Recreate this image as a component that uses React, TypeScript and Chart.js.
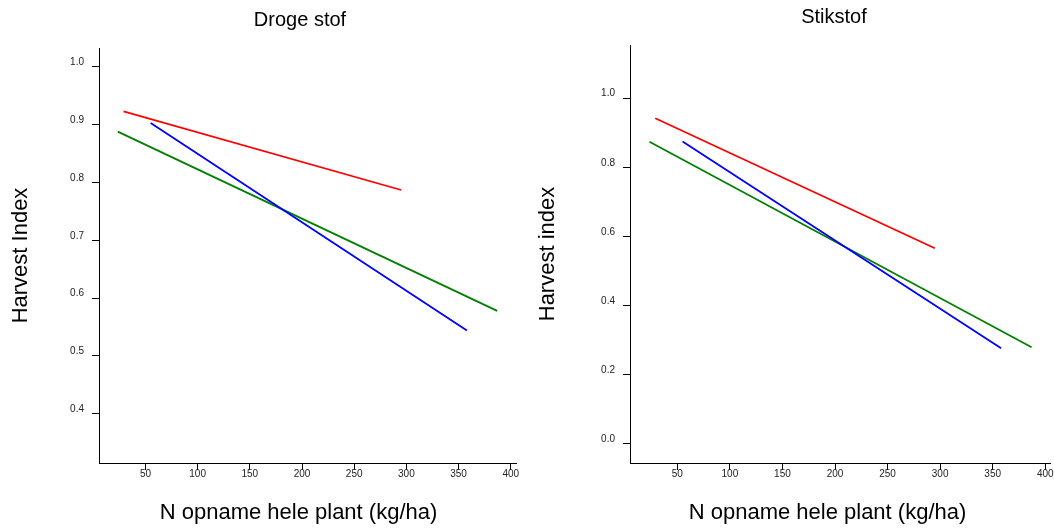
import React, { useEffect, useRef } from 'react';
import { Chart, registerables } from 'chart.js';

Chart.register(...registerables);

// ---- Data ----
const xTicks = [50, 100, 150, 200, 250, 300, 350, 400];
const drogeYTicks = [0.4, 0.5, 0.6, 0.7, 0.8, 0.9, 1.0];
const stikstofYTicks = [0.0, 0.2, 0.4, 0.6, 0.8, 1.0];

// N uptake (kg/ha) at start and end of each fitted line
const redX = [29, 295];
const blueX = [55, 358];
const greenX = [23.5, 387];

// Harvest index, Droge stof
const drogeRed = [0.923, 0.787];
const drogeBlue = [0.903, 0.544];
const drogeGreen = [0.888, 0.578];

// Harvest index, Stikstof
const stikstofRed = [0.942, 0.566];
const stikstofBlue = [0.875, 0.277];
const stikstofGreen = [0.874, 0.28];

const xTitle = 'N opname hele plant (kg/ha)';

const FONT = "'Liberation Sans', Arial, Helvetica, sans-serif";

type PanelProps = {
  title: string;
  yTitle: string;
  yTicks: number[];
  red: number[];
  blue: number[];
  green: number[];
  xMin: number;
  xMax: number;
  yMin: number;
  yMax: number;
  yWidth: number;
  xHeight: number;
  padRight: number;
  titlePadTop: number;
  titlePadBottom: number;
  titleCenter: number;
  xTitleCenter: number;
};

const pts = (xs: number[], ys: number[]) => xs.map((x, i) => ({ x, y: ys[i] }));

function Panel(p: PanelProps) {
  const ref = useRef<HTMLCanvasElement | null>(null);
  useEffect(() => {
    if (!ref.current) return;
    const mk = (label: string, data: { x: number; y: number }[], color: string) => ({
      label,
      data,
      borderColor: color,
      backgroundColor: color,
      borderWidth: 1.8,
      pointRadius: 0,
      tension: 0,
      fill: false,
    });
    // Re-centre the chart title and the x-axis title like the original figure
    const centerTitles = {
      id: 'centerTitles',
      afterLayout(chart: any) {
        const t = chart.titleBlock;
        if (t) {
          const w = t.right - t.left;
          t.left = p.titleCenter - w / 2;
          t.right = p.titleCenter + w / 2;
        }
        const sx = chart.scales.x;
        if (sx && !sx.__patched) {
          sx.__patched = true;
          const orig = sx.drawTitle.bind(sx);
          sx.drawTitle = function () {
            const l = this.left;
            const r = this.right;
            const shift = p.xTitleCenter - (l + r) / 2;
            this.left = l + shift;
            this.right = r + shift;
            orig();
            this.left = l;
            this.right = r;
          };
        }
      },
    };
    const chart = new Chart(ref.current, {
      type: 'line',
      data: {
        datasets: [
          mk('rood', pts(redX, p.red), '#ff0000'),
          mk('blauw', pts(blueX, p.blue), '#0000ff'),
          mk('groen', pts(greenX, p.green), '#008000'),
        ],
      },
      options: {
        animation: false,
        responsive: false,
        devicePixelRatio: 1,
        layout: { padding: { left: 0, right: p.padRight, top: 0, bottom: 0 } },
        plugins: {
          legend: { display: false },
          tooltip: { enabled: false },
          title: {
            display: true,
            text: p.title,
            color: '#000',
            font: { family: FONT, size: 20, weight: 'normal' },
            padding: { top: p.titlePadTop, bottom: p.titlePadBottom },
          },
        },
        scales: {
          x: {
            type: 'linear',
            min: p.xMin,
            max: p.xMax,
            afterBuildTicks: (s: any) => {
              s.ticks = xTicks.map((v) => ({ value: v }));
            },
            afterFit: (s: any) => {
              s.height = p.xHeight;
            },
            ticks: {
              autoSkip: false,
              maxRotation: 0,
              padding: -2,
              color: '#222',
              font: { family: FONT, size: 10 },
              callback: (v: any) => String(v),
            },
            grid: { drawOnChartArea: false, drawTicks: true, tickLength: 7, color: '#000', lineWidth: 1 },
            border: { display: true, color: '#000', width: 1 },
            title: {
              display: true,
              text: xTitle,
              color: '#000',
              font: { family: FONT, size: 22, weight: 'normal' },
              padding: { top: 0, bottom: 3 },
            },
          },
          y: {
            type: 'linear',
            min: p.yMin,
            max: p.yMax,
            afterBuildTicks: (s: any) => {
              s.ticks = p.yTicks.map((v) => ({ value: v }));
            },
            afterFit: (s: any) => {
              s.width = p.yWidth;
            },
            ticks: {
              autoSkip: false,
              padding: 8,
              labelOffset: -4.5,
              color: '#222',
              font: { family: FONT, size: 10 },
              callback: (v: any) => Number(v).toFixed(1),
            },
            grid: { drawOnChartArea: false, drawTicks: true, tickLength: 7, color: '#000', lineWidth: 1 },
            border: { display: true, color: '#000', width: 1 },
            title: {
              display: true,
              text: p.yTitle,
              color: '#000',
              font: { family: FONT, size: 22, weight: 'normal' },
              padding: { top: 8, bottom: 0 },
            },
          },
        },
      } as any,
      plugins: [centerTitles as any],
    });
    return () => chart.destroy();
  }, []);
  return <canvas ref={ref} width={527} height={529} style={{ display: 'block' }} />;
}

export default function App() {
  return (
    <div style={{ position: 'absolute', left: 0, top: 0, width: 1054, height: 529, background: '#fff' }}>
      <div style={{ position: 'absolute', left: 0, top: 0 }}>
        <Panel
          title="Droge stof"
          yTitle="Harvest Index"
          yTicks={drogeYTicks}
          red={drogeRed}
          blue={drogeBlue}
          green={drogeGreen}
          xMin={5.5}
          xMax={405}
          yMin={0.315}
          yMax={1.0325}
          yWidth={99}
          xHeight={66}
          padRight={11}
          titlePadTop={8.5}
          titlePadBottom={15.5}
          titleCenter={300}
          xTitleCenter={298.5}
        />
      </div>
      <div style={{ position: 'absolute', left: 527, top: 0 }}>
        <Panel
          title="Stikstof"
          yTitle="Harvest index"
          yTicks={stikstofYTicks}
          red={stikstofRed}
          blue={stikstofBlue}
          green={stikstofGreen}
          xMin={5}
          xMax={404.5}
          yMin={-0.055}
          yMax={1.154}
          yWidth={103}
          xHeight={66}
          padRight={4}
          titlePadTop={5}
          titlePadBottom={16}
          titleCenter={307}
          xTitleCenter={300.5}
        />
      </div>
    </div>
  );
}
